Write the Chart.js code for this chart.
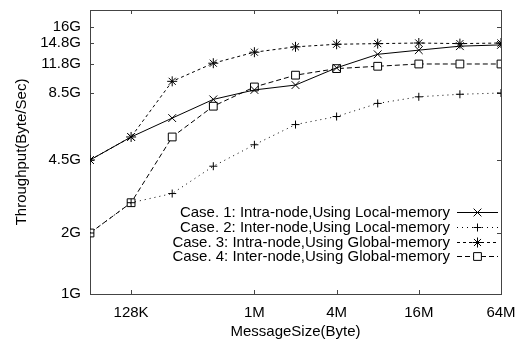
<!DOCTYPE html>
<html>
<head>
<meta charset="utf-8">
<script src="https://cdn.jsdelivr.net/npm/chart.js@4.4.1/dist/chart.umd.min.js"></script>
<style>
  html, body { margin: 0; padding: 0; background: #fff; }
  #wrap { width: 523px; height: 341px; position: relative; }
</style>
</head>
<body>
<div id="wrap"><canvas id="chart"></canvas></div>
<script>
// message sizes in bytes, 64K .. 64M
const sizes = [65536, 131072, 262144, 524288, 1048576, 2097152, 4194304, 8388608, 16777216, 33554432, 67108864];
const xTickVals = [131072, 1048576, 4194304, 16777216, 67108864];
const xTickLabels = ["128K", "1M", "4M", "16M", "64M"];

// throughput axis, in GByte/s
const yTickVals = [1, 2, 4.5, 8.5, 11.8, 14.8, 16];
const yTickLabels = ["1G", "2G", "4.5G", "8.5G", "11.8G", "14.8G", "16G"];

const caseNames = [
  "Case. 1: Intra-node,Using Local-memory",
  "Case. 2: Inter-node,Using Local-memory",
  "Case. 3: Intra-node,Using Global-memory",
  "Case. 4: Inter-node,Using Global-memory",
];
const case1 = [4.5, 5.6, 6.7, 8.0, 8.8, 9.3, 11.3, 13.1, 13.7, 14.3, 14.5];
const case2 = [2.0, 2.8, 3.1, 4.2, 5.2, 6.3, 6.8, 7.7, 8.2, 8.4, 8.5];
const case3 = [4.5, 5.6, 9.7, 11.9, 13.4, 14.2, 14.6, 14.7, 14.8, 14.7, 14.8];
const case4 = [2.0, 2.8, 5.6, 7.5, 9.1, 10.4, 11.2, 11.5, 11.8, 11.8, 11.8];

// The throughput axis is not evenly logarithmic: each labelled value sits at
// its own height, and the scale interpolates in log space between them.
const warpVals = [1, 2, 4.5, 8.5, 11.8, 14.8, 16, 17.4];
const warpFrac = [0, 0.2148, 0.4718, 0.7077, 0.8099, 0.8838, 0.9401, 1];

class WarpScale extends Chart.Scale {
  determineDataLimits() {
    this.min = warpVals[0];
    this.max = warpVals[warpVals.length - 1];
  }
  buildTicks() {
    return yTickVals.map((v) => ({ value: v }));
  }
  getLabelForValue(v) {
    return v + "G";
  }
  _frac(v) {
    const lv = Math.log(v);
    for (let i = 1; i < warpVals.length; i++) {
      if (v <= warpVals[i] || i === warpVals.length - 1) {
        const a = Math.log(warpVals[i - 1]);
        const b = Math.log(warpVals[i]);
        return warpFrac[i - 1] + ((lv - a) / (b - a)) * (warpFrac[i] - warpFrac[i - 1]);
      }
    }
    return 0;
  }
  getPixelForValue(v) {
    if (v == null || isNaN(v)) return NaN;
    return this.getPixelForDecimal(this._frac(v));
  }
  getValueForPixel(p) {
    const d = this.getDecimalForPixel(p);
    for (let i = 1; i < warpFrac.length; i++) {
      if (d <= warpFrac[i] || i === warpFrac.length - 1) {
        const a = Math.log(warpVals[i - 1]);
        const b = Math.log(warpVals[i]);
        const t = (d - warpFrac[i - 1]) / (warpFrac[i] - warpFrac[i - 1]);
        return Math.exp(a + t * (b - a));
      }
    }
    return this.min;
  }
}
WarpScale.id = "warp";
WarpScale.defaults = {};
Chart.register(WarpScale);

const FONT = "'Liberation Sans', Arial, sans-serif";
const series = [case1, case2, case3, case4];
const looks = [
  { dash: [], point: "crossRot", radius: 5.5 },
  { dash: [1, 4], point: "cross", radius: 4 },
  { dash: [3, 3], point: "star", radius: 5 },
  { dash: [5, 3], point: "rect", radius: 5.5 },
];

const datasets = series.map((vals, i) => ({
  label: caseNames[i],
  data: sizes.map((s, j) => ({ x: s, y: vals[j] })),
  borderColor: "#000",
  backgroundColor: "#fff",
  borderWidth: 1,
  borderDash: looks[i].dash,
  pointStyle: looks[i].point,
  pointRadius: looks[i].radius,
  pointBorderColor: "#000",
  pointBackgroundColor: "#fff",
  pointBorderWidth: 1,
  tension: 0,
}));

// box around the plot, with the tick marks pointing inward on all four sides
const framePlugin = {
  id: "frame",
  beforeDatasetsDraw(chart) {
    const { ctx, chartArea: a, scales } = chart;
    ctx.save();
    ctx.strokeStyle = "#444";
    ctx.lineWidth = 1;
    ctx.strokeRect(a.left + 0.5, a.top + 0.5, a.right - a.left, a.bottom - a.top);
    ctx.beginPath();
    xTickVals.forEach((v) => {
      const px = Math.round(scales.x.getPixelForValue(v)) + 0.5;
      ctx.moveTo(px, a.bottom);
      ctx.lineTo(px, a.bottom - 4);
      ctx.moveTo(px, a.top);
      ctx.lineTo(px, a.top + 4);
    });
    yTickVals.forEach((v) => {
      const py = Math.round(scales.y.getPixelForValue(v)) + 0.5;
      ctx.moveTo(a.left, py);
      ctx.lineTo(a.left + 4, py);
      ctx.moveTo(a.right, py);
      ctx.lineTo(a.right - 4, py);
    });
    ctx.stroke();
    ctx.restore();
  },
};

// key in the lower right: text first, then the line sample with its marker
const keyPlugin = {
  id: "key",
  afterDatasetsDraw(chart) {
    const { ctx } = chart;
    const textRight = 450;
    const x0 = 457;
    const x1 = 498;
    ctx.save();
    ctx.font = "15px " + FONT;
    ctx.textAlign = "right";
    ctx.textBaseline = "middle";
    chart.data.datasets.forEach((ds, i) => {
      const y = Math.round(212 + i * 14.8) + 0.5;
      ctx.fillStyle = "#000";
      ctx.fillText(ds.label, textRight, y);
      ctx.strokeStyle = "#000";
      ctx.lineWidth = 1;
      ctx.setLineDash(ds.borderDash);
      ctx.beginPath();
      ctx.moveTo(x0, y);
      ctx.lineTo(x1, y);
      ctx.stroke();
      ctx.setLineDash([]);
      ctx.fillStyle = "#fff";
      Chart.helpers.drawPoint(
        ctx,
        { pointStyle: ds.pointStyle, radius: ds.pointRadius, rotation: 0, borderWidth: 1 },
        (x0 + x1) / 2,
        y
      );
    });
    ctx.restore();
  },
};

new Chart(document.getElementById("chart"), {
  type: "line",
  data: { datasets },
  plugins: [framePlugin, keyPlugin],
  options: {
    responsive: true,
    maintainAspectRatio: false,
    animation: false,
    layout: { padding: { top: 10, right: 22, left: 0, bottom: 0 } },
    scales: {
      x: {
        type: "logarithmic",
        min: sizes[0],
        max: sizes[sizes.length - 1],
        afterBuildTicks: (scale) => {
          scale.ticks = xTickVals.map((v) => ({ value: v }));
        },
        afterFit: (scale) => {
          scale.height = 47;
          scale.paddingLeft = 0;
          scale.paddingRight = 0;
        },
        grid: { display: false, drawTicks: false },
        border: { display: false },
        ticks: {
          autoSkip: false,
          maxRotation: 0,
          padding: 10,
          color: "#000",
          font: { family: FONT, size: 15 },
          callback: (v) => xTickLabels[xTickVals.indexOf(v)] ?? "",
        },
        title: {
          display: true,
          text: "MessageSize(Byte)",
          color: "#000",
          font: { family: FONT, size: 15 },
          padding: { top: 0, bottom: 0 },
        },
      },
      y: {
        type: "warp",
        afterFit: (scale) => {
          scale.width = 90;
          scale.paddingTop = 0;
          scale.paddingBottom = 0;
        },
        grid: { display: false, drawTicks: false },
        border: { display: false },
        ticks: {
          autoSkip: false,
          padding: 9,
          color: "#000",
          font: { family: FONT, size: 15 },
          callback: (v) => yTickLabels[yTickVals.indexOf(v)] ?? "",
        },
        title: {
          display: true,
          text: "Throughput(Byte/Sec)",
          color: "#000",
          font: { family: FONT, size: 15 },
          padding: { top: 13, bottom: 0 },
        },
      },
    },
    plugins: {
      legend: { display: false },
      tooltip: { enabled: false },
    },
  },
});
</script>
</body>
</html>
